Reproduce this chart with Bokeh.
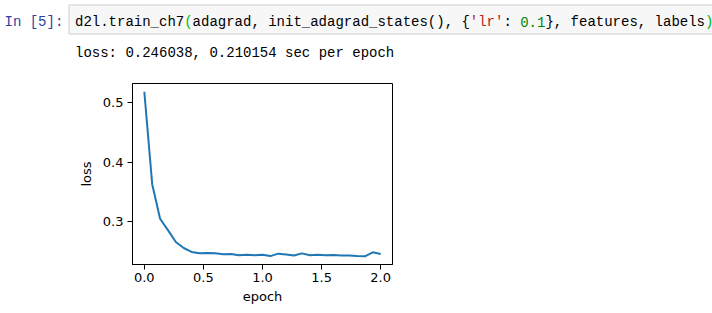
from bokeh.plotting import figure
from bokeh.layouts import column
from bokeh.models import Range1d, FixedTicker
from bokeh.core.properties import value
from bokeh.embed import file_html
from bokeh.resources import INLINE

# ---- data ----
prompt = "In [5]:"
code_segments = ["d2l.train_ch7", "(", "adagrad, init_adagrad_states(), {", "'lr'", ": ", "0.1", "}, features, labels", ")"]
code_colors = ["#000000", "#00bb00", "#000000", "#ba2121", "#000000", "#008800", "#000000", "#00bb00"]
output_text = "loss: 0.246038, 0.210154 sec per epoch"

epochs = [k / 15 for k in range(31)]
loss = [0.518, 0.363, 0.305, 0.286, 0.266, 0.256, 0.2494, 0.247, 0.2475, 0.247,
        0.2454, 0.246, 0.2437, 0.2448, 0.2437, 0.2448, 0.2424, 0.2465, 0.245, 0.2433,
        0.247, 0.2437, 0.2448, 0.2437, 0.2443, 0.2432, 0.2432, 0.2426, 0.2421, 0.2488, 0.246]
x_ticks = [0.0, 0.5, 1.0, 1.5, 2.0]
x_tick_labels = ["0.0", "0.5", "1.0", "1.5", "2.0"]
y_ticks = [0.3, 0.4, 0.5]
y_tick_labels = ["0.3", "0.4", "0.5"]

MONO = "Liberation Mono"
CW = 8.4  # char advance at 14px

# ---- top: notebook cell ----
top = figure(width=712, height=60, output_backend="svg", toolbar_location=None,
             x_range=Range1d(0, 712), y_range=Range1d(60, 0),
             x_axis_location=None, y_axis_location=None,
             min_border=0, outline_line_color=None)
top.frame_align = False
top.grid.visible = False
top.quad(left=68.5, right=730, top=4.5, bottom=33.5, fill_color="#f7f7f7",
         line_color="#cfcfcf", line_width=1)
top.text(x=[4], y=[21], text=[prompt], text_font=value(MONO), text_font_size="14px",
         text_color="#303f9f", text_baseline="alphabetic")
xs, pos = [], 0
for s in code_segments:
    xs.append(74.5 + pos * CW)
    pos += len(s)
top.text(x=xs, y=[21] * len(xs), text=code_segments, text_color=code_colors,
         text_font=value(MONO), text_font_size="14px", text_baseline="alphabetic")
top.text(x=[74.5], y=[52.5], text=[output_text], text_font=value(MONO), text_font_size="14px",
         text_color="#000000", text_baseline="alphabetic")

# ---- chart ----
span = max(loss) - min(loss)
p = figure(width=712, height=253, output_backend="svg", toolbar_location=None,
           x_range=Range1d(-0.1, 2.1),
           y_range=Range1d(min(loss) - 0.05 * span, max(loss) + 0.05 * span),
           min_border_left=132, min_border_right=320, min_border_top=23, min_border_bottom=49,
           outline_line_color="black", outline_line_width=1)
p.frame_align = False
p.grid.visible = False
p.line(epochs, loss, line_color="#1f77b4", line_width=2)

p.xaxis.ticker = FixedTicker(ticks=x_ticks)
p.xaxis.major_label_overrides = dict(zip(x_ticks, x_tick_labels))
p.yaxis.ticker = FixedTicker(ticks=y_ticks)
p.yaxis.major_label_overrides = dict(zip(y_ticks, y_tick_labels))
p.xaxis.axis_label = "epoch"
p.yaxis.axis_label = "loss"
for ax in (p.xaxis, p.yaxis):
    ax.axis_line_color = "black"
    ax.major_tick_line_color = "black"
    ax.minor_tick_line_color = None
    ax.major_tick_out = 5
    ax.major_tick_in = 0
    ax.major_label_text_font = "DejaVu Sans"
    ax.major_label_text_font_size = "13px"
    ax.major_label_text_color = "#000000"
    ax.axis_label_text_font = "DejaVu Sans"
    ax.axis_label_text_font_size = "13px"
    ax.axis_label_text_font_style = "normal"
    ax.axis_label_text_color = "#000000"
p.xaxis.major_label_standoff = 3
p.yaxis.major_label_standoff = 4
p.xaxis.axis_label_standoff = 4
p.yaxis.axis_label_standoff = 6

layout = column(top, p, spacing=0)
open("out.html", "w").write(file_html(layout, INLINE))
